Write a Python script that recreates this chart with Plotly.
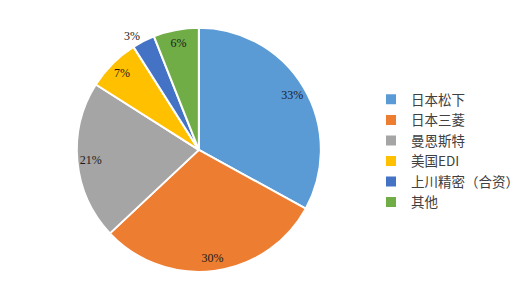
import plotly.graph_objects as go

labels = ["日本松下", "日本三菱", "曼恩斯特", "美国EDI", "上川精密（合资）", "其他"]
values = [33, 30, 21, 7, 3, 6]
colors = ["#5B9BD5", "#ED7D31", "#A5A5A5", "#FFC000", "#4472C4", "#70AD47"]
outside_label = [False, False, False, False, True, False]

dom = dict(x=[0.154, 0.643], y=[0.086, 0.928])
tf = dict(family="Liberation Serif", size=12, color="#1a1a1a")

# base pie: coloured slices, carries only the outside label
fig = go.Figure(go.Pie(
    labels=labels, values=values, sort=False, direction="clockwise", rotation=0,
    marker=dict(colors=colors, line=dict(color="white", width=2)),
    texttemplate=["%{percent:.0%}" if o else "" for o in outside_label],
    textposition=["outside" if o else "none" for o in outside_label],
    textfont=tf, domain=dom, hoverinfo="label+percent",
))
# transparent ring overlay to place inside labels near the rim
fig.add_trace(go.Pie(
    labels=labels, values=values, sort=False, direction="clockwise", rotation=0,
    hole=0.78, showlegend=False,
    marker=dict(colors=["rgba(0,0,0,0)"] * len(values), line=dict(width=0)),
    texttemplate=["" if o else "%{percent:.0%}" for o in outside_label],
    textposition=["none" if o else "inside" for o in outside_label],
    insidetextorientation="horizontal",
    textfont=tf, domain=dom, hoverinfo="skip",
))
fig.update_layout(
    width=524, height=304, margin=dict(l=0, r=0, t=0, b=0),
    paper_bgcolor="white",
    legend=dict(x=0.744, y=0.503, xanchor="left", yanchor="middle",
                font=dict(family="Noto Sans CJK SC", size=13.5, color="#404040")),
    font=dict(family="Liberation Serif"),
)
fig.write_html("out.html")
